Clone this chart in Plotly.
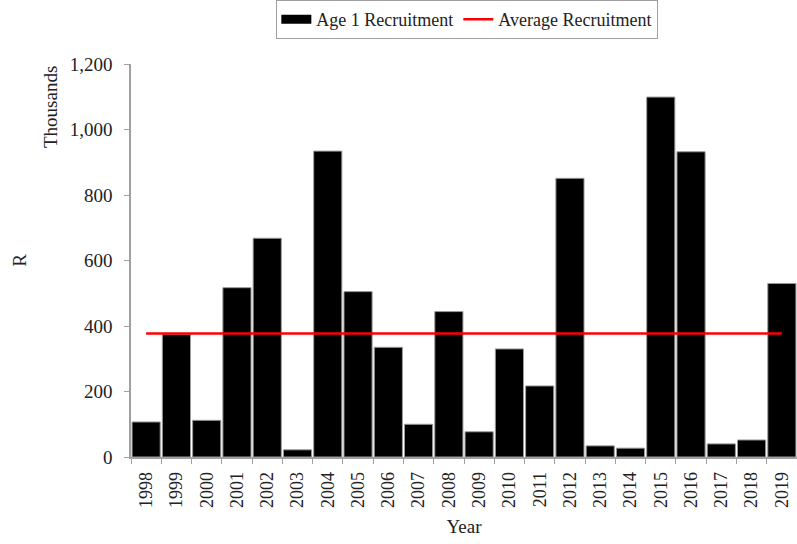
import plotly.graph_objects as go

years = [str(y) for y in range(1998, 2020)]
recruitment = [107, 375, 112, 517, 668, 22, 934, 505, 335, 100, 444, 77,
               330, 217, 851, 34, 27, 1099, 932, 40, 52, 530]
average_recruitment = 377

serif = "Liberation Serif, Times New Roman, serif"
text_color = "#222222"
axis_color = "#a0a0a0"

fig = go.Figure()
fig.add_trace(go.Bar(
    x=years, y=recruitment, name="Age 1 Recruitment",
    legendgroup="age1", showlegend=False,
    marker=dict(color="black", line=dict(color="#9a9a9a", width=1)),
))
# legend key for the bars drawn as a wide black block
fig.add_trace(go.Scatter(
    x=[None], y=[None], name="Age 1 Recruitment", legendgroup="age1",
    mode="lines", line=dict(color="black", width=9),
))
fig.add_trace(go.Scatter(
    x=years, y=[average_recruitment] * len(years), name="Average Recruitment",
    mode="lines", line=dict(color="#ff0000", width=2.5),
))

fig.update_layout(
    width=797, height=544,
    margin=dict(l=131, r=0, t=64, b=87),
    paper_bgcolor="white", plot_bgcolor="white",
    bargap=0.07,
    font=dict(family=serif, size=18, color=text_color),
    showlegend=True,
    legend=dict(
        orientation="h", x=0.505, xanchor="center", y=1.163, yanchor="top",
        bordercolor=axis_color, borderwidth=1, bgcolor="white",
        font=dict(family=serif, size=18, color=text_color),
        itemwidth=30, tracegroupgap=0,
    ),
    xaxis=dict(
        type="category", range=[-0.5, 21.5],
        tickangle=-90, tickson="boundaries",
        ticks="outside", ticklen=5, tickcolor=axis_color,
        ticklabelstandoff=6,
        showline=True, linecolor=axis_color, linewidth=1.5,
        showgrid=False, zeroline=False,
        tickfont=dict(family=serif, size=18, color=text_color),
        title=dict(text="Year", font=dict(family=serif, size=19, color=text_color), standoff=13),
    ),
    yaxis=dict(
        range=[0, 1200], tickvals=[0, 200, 400, 600, 800, 1000, 1200],
        tickformat=",d",
        ticks="outside", ticklen=5, tickcolor=axis_color,
        ticklabelstandoff=8,
        showline=True, linecolor=axis_color, linewidth=1.5,
        showgrid=False, zeroline=False,
        tickfont=dict(family=serif, size=19, color=text_color),
        title=dict(text="R", font=dict(family=serif, size=19, color=text_color), standoff=38),
    ),
)

fig.add_annotation(
    text="Thousands", xref="paper", yref="paper",
    x=-0.1216, xanchor="center", y=1.0, yanchor="top", textangle=-90, showarrow=False,
    font=dict(family=serif, size=19, color=text_color),
)

fig.write_html("out.html")
